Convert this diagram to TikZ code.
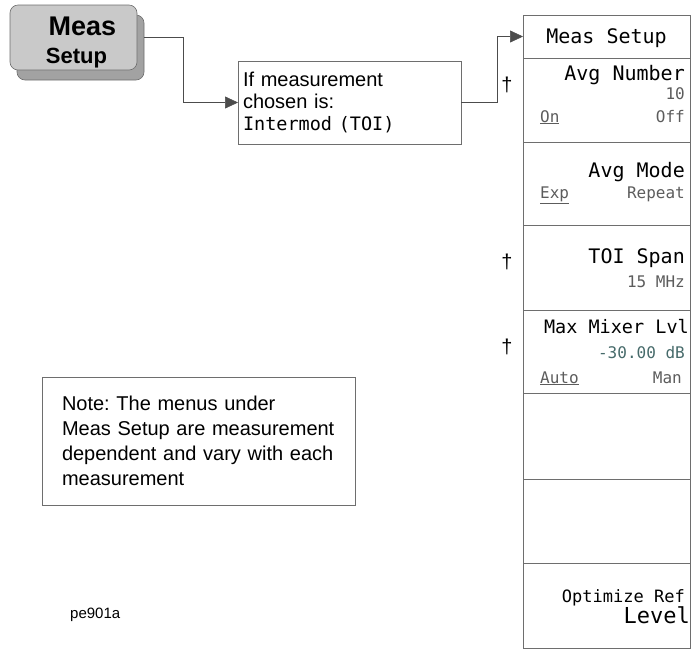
\documentclass[tikz,border=0pt]{standalone}
\usepackage{fontspec}
\setmainfont{Liberation Sans}
\newfontfamily\keyfont{DejaVu Sans Mono}
\usetikzlibrary{positioning,arrows.meta}
\frenchspacing
\definecolor{kborde}{HTML}{6E6E6E}
\definecolor{kcara}{HTML}{C9C9C9}
\definecolor{ksombra}{HTML}{A2A2A2}
\definecolor{kvalor}{HTML}{5C5C5C}
\definecolor{kazul}{HTML}{466A6A}
\tikzset{
  tecla/.style={rectangle, rounded corners=8pt, draw=kborde, fill=kcara,
    minimum width=127pt, minimum height=65pt, line width=0.6pt},
  sombra/.style={tecla, fill=ksombra},
  caja/.style={rectangle, draw=kborde, line width=0.7pt, outer sep=0pt,
    align=left, font=\fontsize{20}{22}\selectfont},
  menu/.style={rectangle, draw=kborde, line width=0.7pt, outer sep=0pt,
    inner sep=0pt, minimum width=167pt},
  rotulo/.style={font=\keyfont\fontsize{20}{22}\selectfont, inner sep=0pt, anchor=base east},
  valor/.style={font=\keyfont\fontsize{16}{18}\selectfont, text=kvalor, inner sep=0pt, anchor=base east},
  opcion/.style={valor, anchor=base west},
  daga/.style={font=\fontsize{20}{22}\selectfont, inner sep=0pt},
  flecha/.style={-{Triangle[length=13pt,width=12pt]}, draw=black!70, line width=0.6pt},
}

\begin{document}
\begin{tikzpicture}[x=1pt, y=-1pt, node distance=0pt]
  \useasboundingbox (0,0) rectangle (693,649);
  % hard key
  \node[sombra] (keyshade) at (80.5,47.5) {};
  \node[tecla] (key) at (73.5,37.5) {};
  \node[font=\bfseries\fontsize{27}{29}\selectfont, anchor=base, inner sep=0pt] (keytop) at (82.5,35) {Meas};
  \node[font=\bfseries\fontsize{22}{24}\selectfont, anchor=base, inner sep=0pt] (keybot) at (76.5,63) {Setup};
  % condition box
  \node[caja, minimum width=223pt, minimum height=83pt, text width=213pt, inner xsep=5pt] (chosen) at (349.5,102.5)
    {If measurement\\chosen is:\\{\keyfont\fontsize{18.5}{22}\selectfont Intermod (TOI)}};
  % softkey menu
  \node[menu, minimum height=43pt, anchor=north] (mtit) at (606.5,15) {};
  \node[menu, minimum height=84pt, below=of mtit] (mavgn) {};
  \node[menu, minimum height=83pt, below=of mavgn] (mavgm) {};
  \node[menu, minimum height=85pt, below=of mavgm] (mtoi) {};
  \node[menu, minimum height=83pt, below=of mtoi] (mmix) {};
  \node[menu, minimum height=86pt, below=of mmix] (mvac1) {};
  \node[menu, minimum height=84pt, below=of mvac1] (mvac2) {};
  \node[menu, minimum height=85pt, below=of mvac2] (mopt) {};
  \node[rotulo, anchor=base] (tTit) at ([yshift=-28pt]mtit.north) {Meas Setup};
  \node[rotulo] (tAvgN) at ([xshift=-5pt,yshift=-22pt]mavgn.north east) {Avg Number};
  \node[valor] (vAvgN) at ([xshift=-5pt,yshift=-41pt]mavgn.north east) {10};
  \node[opcion] (oOn) at ([xshift=17pt,yshift=-64pt]mavgn.north west) {\underline{On}};
  \node[valor] (oOff) at ([xshift=-5pt,yshift=-64pt]mavgn.north east) {Off};
  \node[rotulo] (tAvgM) at ([xshift=-5pt,yshift=-35pt]mavgm.north east) {Avg Mode};
  \node[opcion] (oExp) at ([xshift=17pt,yshift=-56pt]mavgm.north west) {\underline{Exp}};
  \node[valor] (oRep) at ([xshift=-5pt,yshift=-56pt]mavgm.north east) {Repeat};
  \node[rotulo] (tToi) at ([xshift=-5pt,yshift=-38pt]mtoi.north east) {TOI Span};
  \node[valor] (vToi) at ([xshift=-5pt,yshift=-62pt]mtoi.north east) {15 MHz};
  \node[rotulo, font=\keyfont\fontsize{18.5}{20}\selectfont] (tMix) at ([xshift=-1pt,yshift=-23pt]mmix.north east) {Max Mixer Lvl};
  \node[valor, text=kazul] (vMix) at ([xshift=-5pt,yshift=-48pt]mmix.north east) {-30.00 dB};
  \node[opcion] (oAuto) at ([xshift=17pt,yshift=-73pt]mmix.north west) {\underline{Auto}};
  \node[valor] (oMan) at ([xshift=-8pt,yshift=-73pt]mmix.north east) {Man};
  \node[valor, text=black, font=\keyfont\fontsize{17}{19}\selectfont] (tOpt) at ([xshift=-5pt,yshift=-39pt]mopt.north east) {Optimize Ref};
  \node[rotulo, font=\keyfont\fontsize{22}{24}\selectfont] (tLev) at ([xshift=0pt,yshift=-60pt]mopt.north east) {Level};
  % daggers
  \node[daga] (d1) at (507,85) {†};
  \node[daga] (d2) at (507,262) {†};
  \node[daga] (d3) at (507,347) {†};
  % note
  \node[caja, minimum width=313pt, minimum height=128pt, text width=273pt, inner xsep=20pt,
    font=\fontsize{20}{25}\selectfont] (nota) at (198.5,441)
    {Note: The menus under\\Meas Setup are measurement\\dependent and vary with each\\measurement};
  \node[font=\fontsize{15}{17}\selectfont, anchor=base west, inner sep=0pt] (fig) at (70,618) {pe901a};
  % connectors
  \draw[flecha] (key.east -| keyshade.east) -- ++(39,0) |- (chosen.west);
  \draw[flecha] (chosen.east) -- ++(36,0) |- (mtit.west);
\end{tikzpicture}
\end{document}
